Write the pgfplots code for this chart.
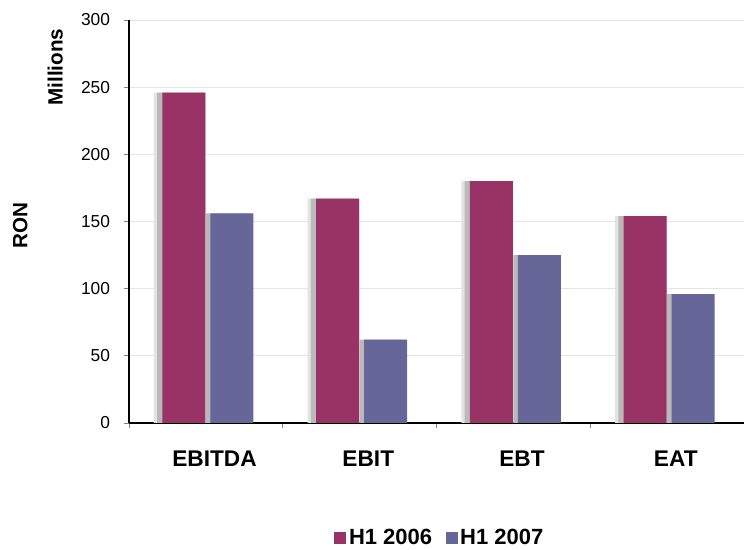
\documentclass[border=0pt]{standalone}
\usepackage{fontspec}
\setmainfont{Liberation Sans}
\usepackage{pgfplots}
\pgfplotsset{compat=1.18}
\definecolor{cred}{HTML}{993366}
\definecolor{cblue}{HTML}{666699}
\begin{document}
\begin{tikzpicture}
\useasboundingbox (0pt,0pt) rectangle (558pt,412.5pt);
\begin{axis}[
  at={(96.75pt,95.25pt)}, anchor=south west,
  scale only axis, width=461.25pt, height=302.25pt,
  xmin=-0.5, xmax=3.5, ymin=0, ymax=300,
  ytick={0,50,...,300},
  xtick={0,1,2,3},
  xticklabels={EBITDA,EBIT,EBT,EAT},
  minor xtick={-0.5,0.5,1.5,2.5,3.5},
  axis x line*=bottom, axis y line*=left,
  axis line style={black, line width=0.8pt, -},
  tick align=outside,
  major tick length=3.75pt,
  minor tick length=3.75pt,
  x tick style={draw=none},
  minor x tick style={draw=gray, line width=0.6pt},
  y tick style={draw=gray, line width=0.6pt},
  ymajorgrids, grid style={gray!20, line width=0.6pt},
  yticklabel style={font=\fontsize{13}{14}\selectfont, xshift=-7pt},
  xticklabel style={font=\bfseries\fontsize{17}{18}\selectfont, yshift=-14pt, xshift=6.5pt},
  /pgf/number format/assume math mode=true,
  ybar, bar width=32.25pt,
  legend style={draw=none, at={(0.506,-0.285)}, anchor=center, legend columns=2,
     font=\bfseries\fontsize{16.5}{17}\selectfont,
     /tikz/every even column/.append style={column sep=8pt}},
  legend image code/.code={\fill[#1] (0,-4.5pt) rectangle (9pt,4.5pt);},
  clip=false,
]
% shadows
\addplot[forget plot, draw=none, fill=gray!22, bar width=39pt, bar shift=-19.5pt] coordinates {(0,246) (1,167) (2,180) (3,154)};
\addplot[forget plot, draw=none, fill=gray!55, bar width=35pt, bar shift=-19pt] coordinates {(0,246) (1,167) (2,180) (3,154)};
\addplot[forget plot, draw=none, fill=gray!55, bar width=34pt, bar shift=17pt] coordinates {(0,156) (1,62) (2,125) (3,96)};
% bars
\addplot[draw=none, fill=cred, bar shift=-16.5pt] coordinates {(0,246) (1,167) (2,180) (3,154)};
\addplot[draw=none, fill=cblue, bar shift=19.5pt] coordinates {(0,156) (1,62) (2,125) (3,96)};
\legend{H1 2006, H1 2007}
\node[rotate=90, font=\bfseries\fontsize{15.5}{16}\selectfont] at (rel axis cs:-0.120,0.883) {Millions};
\node[rotate=90, font=\bfseries\fontsize{15.5}{16}\selectfont] at (rel axis cs:-0.177,0.491) {RON};
\end{axis}
\end{tikzpicture}
\end{document}
